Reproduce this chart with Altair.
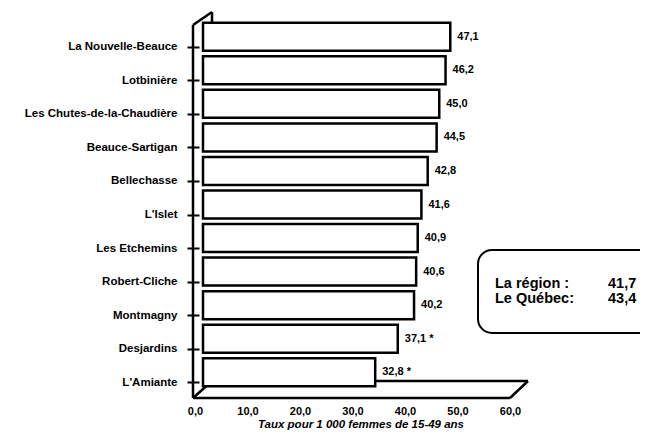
import altair as alt
import pandas as pd

# ---- data ----
regions = ["La Nouvelle-Beauce", "Lotbinière", "Les Chutes-de-la-Chaudière",
           "Beauce-Sartigan", "Bellechasse", "L'Islet", "Les Etchemins",
           "Robert-Cliche", "Montmagny", "Desjardins", "L'Amiante"]
rates = [47.1, 46.2, 45.0, 44.5, 42.8, 41.6, 40.9, 40.6, 40.2, 37.1, 32.8]
flags = ["", "", "", "", "", "", "", "", "", "*", "*"]
x_ticks = [0, 10, 20, 30, 40, 50, 60]
x_title = "Taux pour 1 000 femmes de 15-49 ans"
summary_labels = ["La région :", "Le Québec:"]
summary_values = ["41,7", "43,4"]

FONT = "Liberation Sans"

df = pd.DataFrame({"region": regions, "rate": rates, "flag": flags})
df["label"] = [f"{v:.1f}".replace(".", ",") + (" " + f if f else "")
               for v, f in zip(rates, flags)]

one = pd.DataFrame({"k": [0]})

y_enc = alt.Y("region:N", sort=regions,
              scale=alt.Scale(paddingInner=0.165, paddingOuter=0.0825),
              axis=alt.Axis(title=None, domain=False, tickSize=12, tickWidth=2,
                            tickColor="black", offset=4, tickOffset=10,
                            labelPadding=10, labelFont=FONT, labelFontSize=11.5,
                            labelFontWeight="bold", labelColor="black"))
x_enc = alt.X("rate:Q", scale=alt.Scale(domain=[0, 60], nice=False, zero=True),
              axis=alt.Axis(values=x_ticks,
                            labelExpr="replace(format(datum.value, '.1f'), '.', ',')",
                            domain=False, ticks=False, tickSize=0, grid=False,
                            labelOffset=-8, labelPadding=16, labelFlush=False,
                            labelOverlap=False,
                            labelFont=FONT, labelFontSize=11, labelFontWeight="bold",
                            labelColor="black",
                            title=x_title, titleFont=FONT, titleFontSize=11.5,
                            titleFontWeight="bold", titleFontStyle="italic",
                            titleColor="black", titlePadding=2))

def seg(x1, y1, x2, y2, w=2.5):
    return alt.Chart(one).mark_rule(color="black", strokeWidth=w).encode(
        x=alt.value(x1), y=alt.value(y1), x2=alt.value(x2), y2=alt.value(y2))

# 3-D frame (decoration)
frame = [
    seg(-10, 5, -10, 378),      # front vertical edge
    seg(-10, 5, 9, -8),         # top corner diagonal
    seg(9, -8, 9, 2),           # back wall edge (top)
    seg(-10, 378, 307, 378),    # floor front edge
    seg(307, 378, 325, 361),    # floor right diagonal
    seg(9, 361, 325, 361),      # floor back edge
    seg(-10, 378, 9, 361),      # floor left diagonal
]

bars = alt.Chart(df).mark_bar(fill="white", stroke="black", strokeWidth=2.5).encode(
    x=x_enc, y=y_enc)

values = alt.Chart(df).mark_text(align="left", baseline="middle", dx=7, font=FONT,
                                 fontSize=11, fontWeight="bold", color="black").encode(
    x="rate:Q", y=alt.Y("region:N", sort=regions), text="label:N")

box = alt.Chart(one).mark_rect(fill="white", stroke="black", strokeWidth=2,
                               cornerRadius=14).encode(
    x=alt.value(275), x2=alt.value(520), y=alt.value(230), y2=alt.value(313))

box_lab = alt.Chart(one).mark_text(align="left", baseline="alphabetic", font=FONT,
                                   fontSize=14.5, fontWeight="bold", color="black",
                                   lineBreak="\n", lineHeight=15).encode(
    x=alt.value(292), y=alt.value(268), text=alt.value("\n".join(summary_labels)))

box_val = alt.Chart(one).mark_text(align="left", baseline="alphabetic", font=FONT,
                                   fontSize=14.5, fontWeight="bold", color="black",
                                   lineBreak="\n", lineHeight=15).encode(
    x=alt.value(405), y=alt.value(268), text=alt.value("\n".join(summary_values)))

chart = alt.layer(*frame, bars, values, box, box_lab, box_val).properties(
    width=315, height=369,
    padding={"left": 195, "top": 12, "right": 122, "bottom": 42},
    autosize=alt.AutoSizeParams(type="none"),
    background="white",
).configure_view(stroke=None)

chart.save("out.html", embed_options={"renderer": "svg", "actions": False})
